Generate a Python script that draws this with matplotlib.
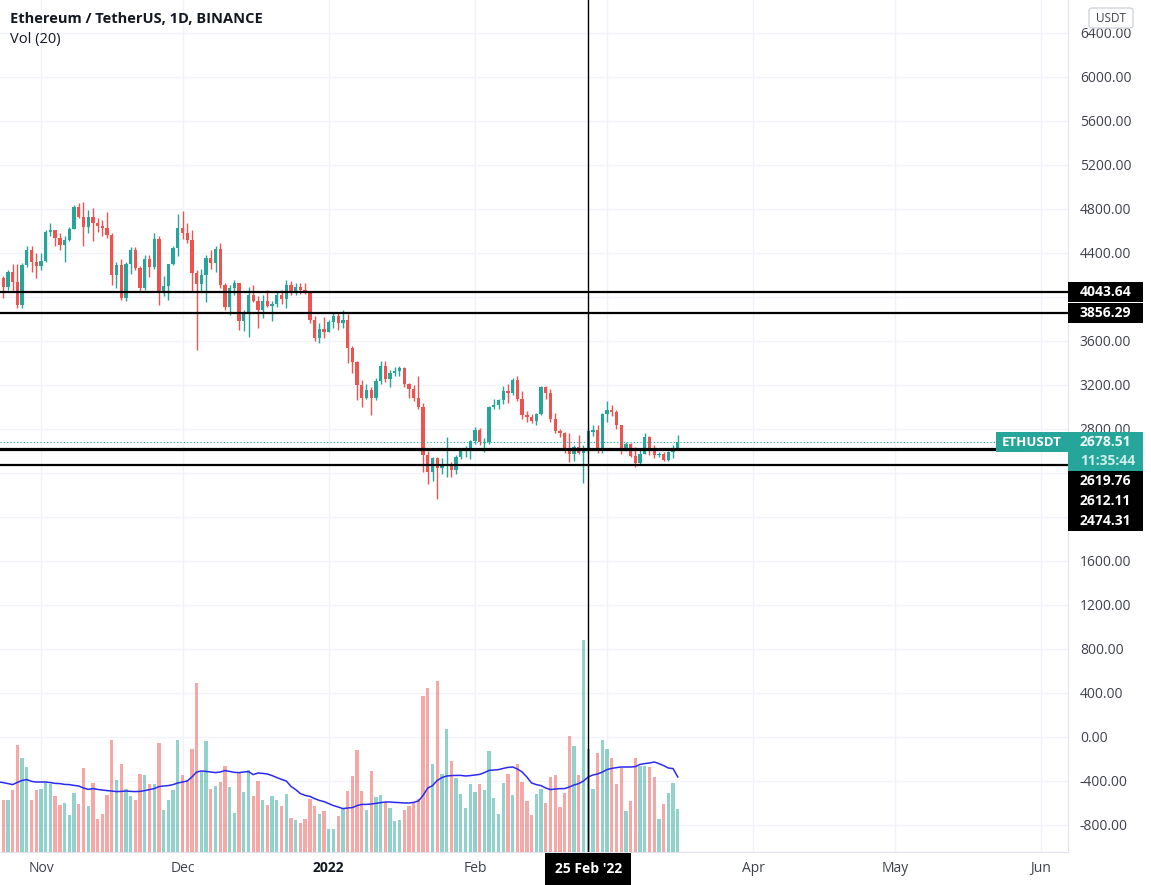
import numpy as np
import pandas as pd
import matplotlib
matplotlib.use("Agg")
import matplotlib.pyplot as plt
import matplotlib.dates as mdates
from matplotlib.patches import Rectangle, FancyBboxPatch

plt.rcParams['font.family'] = ['Open Sans', 'DejaVu Sans']

# daily candles, 23 Oct 2021 .. 16 Mar 2022
dates = pd.date_range('2021-10-23', '2022-03-16', freq='D')

opens = [3973, 4170, 4090, 4225, 4135, 3927, 4288, 4425, 4320,
         4285, 4330, 4595, 4610, 4535, 4475, 4520, 4615, 4815, 4730,
         4635, 4730, 4670, 4645, 4625, 4565, 4200, 4290, 3990, 4300,
         4425, 4265, 4085, 4345, 4270, 4525, 4045, 4100, 4300, 4445,
         4630, 4585, 4520, 4215, 4120, 4200, 4355, 4310, 4440, 4105,
         3905, 4085, 4130, 3785, 3860, 4020, 3960, 3880, 3960, 3920,
         3940, 4020, 3980, 4110, 4045, 4095, 4065, 4035, 3795, 3630, 3710,
         3680, 3770, 3830, 3760, 3790, 3540, 3410, 3200, 3080, 3155,
         3080, 3240, 3370, 3250, 3310, 3330, 3350, 3212, 3163, 3083,
         3000, 2564, 2410, 2540, 2442, 2463, 2468, 2425, 2546, 2600, 2605,
         2688, 2791, 2672, 2683, 3000, 3018, 3064, 3148, 3128, 3245,
         3075, 2930, 2905, 2875, 2935, 3185, 3125, 2890, 2785, 2765,
         2625, 2570, 2640, 2585, 2600, 2775, 2790, 2625,
         2935, 2975, 2950, 2835, 2618, 2665, 2556, 2495, 2575, 2730,
         2608, 2560, 2572, 2518, 2595, 2620]
closes = [4170, 4090, 4225, 4135, 3927, 4288, 4425, 4320, 4285,
          4330, 4595, 4610, 4535, 4475, 4520, 4615, 4815, 4730, 4635,
          4730, 4670, 4645, 4625, 4565, 4200, 4290, 3990, 4300, 4425,
          4265, 4085, 4345, 4270, 4525, 4045, 4100, 4300, 4445, 4630,
          4585, 4520, 4215, 4120, 4200, 4355, 4310, 4440, 4105, 3905,
          4085, 4130, 3785, 3860, 4020, 3960, 3880, 3960, 3920, 3940,
          4020, 3980, 4110, 4045, 4095, 4065, 4035, 3795, 3630, 3710, 3680,
          3770, 3830, 3760, 3790, 3540, 3410, 3200, 3080, 3155, 3080,
          3240, 3370, 3250, 3310, 3330, 3350, 3212, 3163, 3083, 3000,
          2564, 2410, 2540, 2442, 2463, 2468, 2425, 2546, 2600, 2605, 2688,
          2791, 2680, 2683, 3000, 3018, 3064, 3148, 3128, 3245, 3075,
          2930, 2905, 2875, 2935, 3185, 3125, 2890, 2785, 2765, 2625,
          2570, 2640, 2585, 2600, 2780, 2790, 2625, 2935,
          2975, 2950, 2835, 2618, 2665, 2556, 2495, 2575, 2730, 2608,
          2560, 2572, 2518, 2595, 2620, 2678.51]
highs = [4185, 4190, 4245, 4300, 4300, 4305, 4460, 4460, 4400,
         4400, 4610, 4670, 4610, 4585, 4550, 4640, 4835, 4850, 4868,
         4790, 4805, 4715, 4700, 4770, 4580, 4320, 4345, 4320, 4450,
         4450, 4280, 4380, 4380, 4585, 4550, 4190, 4300, 4460, 4755,
         4780, 4670, 4610, 4245, 4250, 4380, 4430, 4460, 4490, 4130,
         4110, 4150, 4130, 3885, 4090, 4110, 4005, 4020, 4060, 3960,
         4050, 4060, 4150, 4145, 4130, 4130, 4125, 4040, 3825, 3765, 3815,
         3790, 3860, 3855, 3880, 3845, 3550, 3415, 3245, 3210, 3180,
         3265, 3415, 3415, 3340, 3365, 3370, 3360, 3215, 3200, 3280,
         3040, 2600, 2545, 2545, 2540, 2724, 2500, 2560, 2620, 2645, 2700,
         2815, 2810, 2715, 3010, 3075, 3075, 3190, 3210, 3265, 3285,
         3145, 2960, 2935, 2945, 3195, 3190, 3160, 2945, 2800, 2770,
         2760, 2655, 2745, 2650, 2800, 2840, 2835, 2945,
         3050, 3020, 2970, 2840, 2685, 2670, 2640, 2630, 2760, 2735,
         2650, 2590, 2590, 2600, 2650, 2745]
lows = [3950, 3990, 4060, 4050, 3900, 3900, 4270, 4230, 4170,
        4245, 4320, 4550, 4460, 4430, 4320, 4510, 4615, 4715, 4460,
        4580, 4510, 4590, 4550, 4540, 4110, 4080, 3970, 3960, 4210,
        4245, 4050, 4065, 4185, 4250, 3930, 4010, 3975, 4290, 4370,
        4530, 4490, 4050, 3520, 4050, 3950, 4250, 4230, 4080, 3880,
        3835, 4020, 3700, 3690, 3640, 3950, 3720, 3810, 3910, 3780,
        3910, 3940, 3900, 4020, 4020, 4025, 4025, 3760, 3600, 3585, 3625,
        3680, 3720, 3700, 3720, 3400, 3310, 3060, 3000, 3070, 2930,
        3060, 3210, 3225, 3180, 3280, 3280, 3180, 3080, 3050, 2980,
        2412, 2300, 2330, 2160, 2390, 2360, 2360, 2390, 2525, 2545, 2525,
        2660, 2650, 2590, 2665, 2985, 2980, 3030, 3040, 3110, 3055,
        2890, 2860, 2850, 2835, 2930, 3075, 2860, 2760, 2725, 2585,
        2500, 2505, 2570, 2310, 2580, 2740, 2580, 2580,
        2865, 2915, 2800, 2575, 2600, 2545, 2450, 2485, 2570, 2560,
        2535, 2545, 2505, 2505, 2540, 2610]

# volume (thousand ETH) and its 20-day average
volume = [250, 262, 262, 312, 533, 472, 425, 258, 312,
          317, 347, 338, 280, 233, 245, 183, 297, 238, 420,
          228, 347, 167, 188, 283, 558, 358, 438, 317, 278,
          258, 392, 383, 338, 338, 547, 208, 262, 308, 562,
          383, 362, 515, 845, 400, 553, 317, 328, 350, 428,
          325, 197, 400, 300, 412, 280, 355, 258, 233, 280,
          258, 230, 288, 172, 158, 145, 167, 267, 230, 188, 203,
          117, 117, 178, 213, 303, 380, 508, 303, 208, 403,
          275, 283, 250, 220, 153, 158, 212, 228, 245, 267,
          778, 822, 438, 855, 388, 613, 453, 372, 292, 220, 338,
          300, 338, 308, 503, 270, 192, 345, 388, 283, 438,
          350, 255, 187, 288, 313, 245, 375, 383, 225, 295,
          578, 528, 383, 1058, 513, 317, 495, 558,
          513, 470, 338, 422, 203, 253, 470, 428, 428, 425,
          375, 167, 238, 295, 347, 217]
vol_ma = [350, 347, 342, 337, 348, 358, 362, 353, 350,
          350, 350, 347, 343, 342, 338, 337, 333, 330, 320,
          313, 317, 313, 310, 307, 305, 302, 303, 305, 303,
          302, 303, 307, 312, 317, 327, 330, 332, 337, 345,
          350, 355, 375, 400, 405, 403, 400, 397, 400, 407,
          403, 398, 397, 400, 402, 387, 395, 393, 390, 382,
          372, 363, 355, 328, 312, 292, 283, 278, 267, 258, 252,
          242, 232, 225, 217, 220, 222, 232, 238, 238, 240,
          243, 247, 250, 250, 248, 247, 245, 245, 248, 255,
          283, 320, 332, 358, 372, 380, 382, 383, 383, 380, 382,
          385, 388, 397, 408, 410, 412, 418, 423, 425, 415,
          400, 375, 345, 337, 332, 320, 312, 315, 317, 317,
          325, 335, 342, 355, 375, 385, 390, 400,
          412, 418, 422, 425, 425, 425, 427, 438, 442, 445,
          450, 442, 432, 420, 417, 375]

levels = [4043.64, 3856.29, 2619.76, 2612.11, 2474.31]
last_price = 2678.51
countdown = '11:35:44'
cursor_day = '2022-02-25'
price_ticks = [-800, -400, 0, 400, 800, 1200, 1600, 2800, 3200, 3600,
               4400, 4800, 5200, 5600, 6000, 6400]
month_days = ['2021-11-01', '2021-12-01', '2022-01-01', '2022-02-01',
              '2022-03-01', '2022-04-01', '2022-05-01', '2022-06-01']
month_labels = ['Nov', 'Dec', '2022', 'Feb', '', 'Apr', 'May', 'Jun']

UP = '#26a69a'
DOWN = '#ef5350'
GRID = '#f0f3fa'
TXT = '#131722'
SCALE_TXT = '#3e414b'

W, H = 1151, 885
fig = plt.figure(figsize=(W / 100, H / 100), dpi=100)
ax = fig.add_axes([0, 33 / H, 1068 / W, 852 / H])

x = mdates.date2num(dates)
nov1 = mdates.date2num(pd.Timestamp('2021-11-01'))
ax.set_xlim(nov1 - 8.69, nov1 + 217.72)
ax.set_ylim(-1045.5, 6700)

# grid
for g in range(-800, 6801, 400):
    ax.axhline(g, color=GRID, lw=1, zorder=0)
month_x = mdates.date2num(pd.to_datetime(month_days))
for m in month_x:
    ax.axvline(m, color=GRID, lw=1, zorder=0)

# candles
o = np.array(opens, float)
c = np.array(closes, float)
cols = [UP if cc >= oo else DOWN for oo, cc in zip(o, c)]
ax.vlines(x, lows, highs, colors=cols, lw=1, zorder=2)
body = np.maximum(np.abs(c - o), 8)
ax.bar(x, body, bottom=np.minimum(o, c), width=0.7, color=cols, lw=0, zorder=3)

# horizontal levels and last price
for lv in levels:
    ax.axhline(lv, color='black', lw=1.6, zorder=4)
ax.axhline(last_price, color=UP, lw=0.8, ls=(0, (1, 2)), zorder=4)

# volume pane overlay
ax2 = ax.twinx()
ax2.set_ylim(0, 852 * 5)
ax2.bar(x, volume, width=0.7, color=cols, alpha=0.5, lw=0)
ax2.plot(x, vol_ma, color='#2b2bef', lw=1.1)
ax2.set_yticks([])
for s in ax2.spines.values():
    s.set_visible(False)
cx = mdates.date2num(pd.Timestamp(cursor_day))
ax2.axvline(cx, color='black', lw=1)

# axes styling
for s in ['top', 'left']:
    ax.spines[s].set_visible(False)
ax.spines['right'].set_color('#e0e3eb')
ax.spines['bottom'].set_color('#e0e3eb')
ax.yaxis.tick_right()
ax.set_yticks(price_ticks)
ax.set_yticklabels([f'{v:.2f}' for v in price_ticks])
ax.tick_params(axis='y', length=0, pad=8.5, labelsize=10, labelcolor=SCALE_TXT)
ax.set_xticks(month_x)
ax.set_xticklabels(month_labels)
ax.tick_params(axis='x', length=0, pad=6.5, labelsize=10, labelcolor=SCALE_TXT)
for lab in ax.get_xticklabels():
    if lab.get_text() == '2022':
        lab.set_fontweight('bold')
        lab.set_color(TXT)


def fx(px):
    return px / W


def fy(py):
    return 1 - py / H


def box(x0, y0, x1, y1, color):
    fig.add_artist(Rectangle((fx(x0), fy(y1)), (x1 - x0) / W, (y1 - y0) / H,
                             transform=fig.transFigure, color=color, lw=0, zorder=5))


def price_py(p):
    return H - ax.transData.transform((0, p))[1]


# right scale labels, stacked like the source
LH = 20
py_last = price_py(last_price)
box(996, py_last - 10, 1068, py_last + 10, UP)
fig.text(fx(1032), fy(py_last), 'ETHUSDT', ha='center', va='center',
         color='white', fontsize=9.5, fontweight='bold', zorder=6)
box(1068, py_last - 10, 1143, py_last + 10 + 19, UP)
fig.text(fx(1080), fy(py_last), f'{last_price:.2f}', va='center',
         color='#eefaf8', fontsize=10, fontweight='bold', zorder=6)
fig.text(fx(1080), fy(py_last + 19), countdown, va='center',
         color='#cdeeea', fontsize=10, fontweight='bold', zorder=6)

bottom = py_last + 29
prev = -100
for lv in levels:
    py = price_py(lv)
    if lv < last_price:
        py = max(py, bottom + LH / 2)
        bottom = py + LH / 2
    else:
        py = max(py, prev + LH)
        prev = py
    box(1068, py - LH / 2, 1143, py + LH / 2, 'black')
    fig.text(fx(1080), fy(py), f'{lv:.2f}', va='center',
             color='white', fontsize=10, fontweight='bold', zorder=6)

# currency tag
fig.add_artist(FancyBboxPatch((fx(1089), fy(28)), 44 / W, 20 / H,
                              boxstyle='round,pad=0,rounding_size=0.003',
                              transform=fig.transFigure, fc='white',
                              ec='#d1d4dc', lw=1, zorder=5))
fig.text(fx(1111), fy(18), 'USDT', ha='center', va='center',
         color=SCALE_TXT, fontsize=8.5, zorder=6)

# crosshair date tag
cpx = ax.transData.transform((cx, 0))[0]
box(cpx - 43, 853, cpx + 43, 885, 'black')
fig.text(fx(cpx), fy(869), "25 Feb '22", ha='center', va='center',
         color='white', fontsize=10, fontweight='bold', zorder=6)

# legend text
fig.text(fx(10), fy(19), 'Ethereum / TetherUS, 1D, BINANCE', va='center',
         color=TXT, fontsize=10.5, fontweight='bold')
fig.text(fx(10), fy(40), 'Vol (20)', va='center', color=TXT, fontsize=10.5)

fig.savefig('out.png', dpi=100, facecolor='white')
